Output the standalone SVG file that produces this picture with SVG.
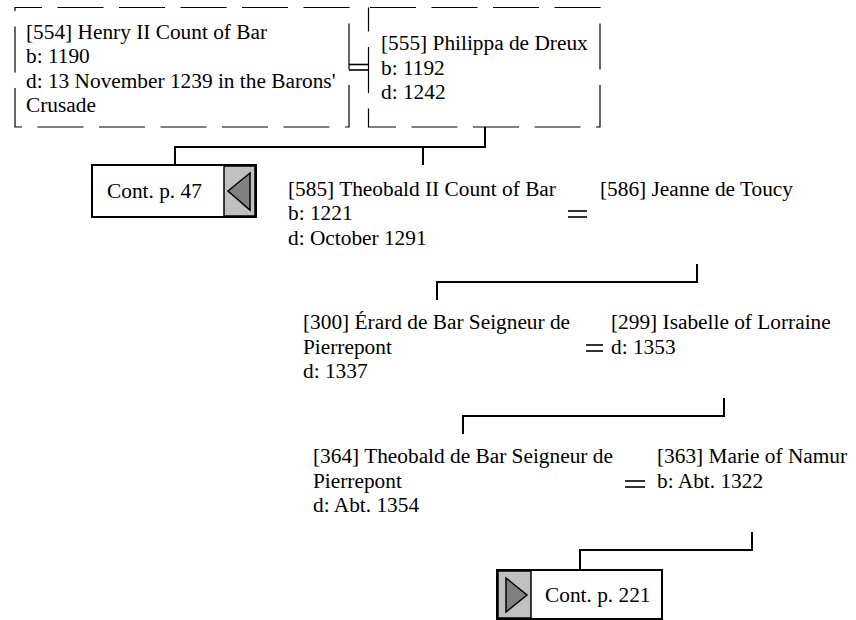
<svg xmlns="http://www.w3.org/2000/svg" width="856" height="620" viewBox="0 0 856 620">
<style>
.dash{fill:#fff;stroke:#000;stroke-width:1.2;stroke-dasharray:46 15.5}
.ln{fill:none;stroke:#000;stroke-width:2}
.eq{stroke:#000;stroke-width:1.6}
.cbox{fill:#fff;stroke:#000;stroke-width:2}
.panel{fill:#c0c0c0;stroke:#000;stroke-width:1.5}
.tri{fill:#808080;stroke:#000;stroke-width:1.5}
</style>
<rect width="856" height="620" fill="#fff"/>
<g id="connectors">
<line class="eq" x1="349" y1="64.5" x2="368.5" y2="64.5"/>
<line class="eq" x1="349" y1="70" x2="368.5" y2="70"/>
<polyline class="ln" points="485,127 485,147 175,147 175,165"/>
<line class="ln" x1="423" y1="147" x2="423" y2="165"/>
<line class="eq" x1="568" y1="211" x2="587" y2="211"/>
<line class="eq" x1="568" y1="217" x2="587" y2="217"/>
<polyline class="ln" points="697,264 697,282 437,282 437,300"/>
<line class="eq" x1="586" y1="345" x2="603" y2="345"/>
<line class="eq" x1="586" y1="351" x2="603" y2="351"/>
<polyline class="ln" points="724,398 724,416 463,416 463,434"/>
<line class="eq" x1="625" y1="481" x2="645" y2="481"/>
<line class="eq" x1="625" y1="487" x2="645" y2="487"/>
<polyline class="ln" points="752,532 752,550 580,550 580,570"/>
</g>
<g id="p554">
<rect class="dash" x="15" y="7.5" width="334" height="119.5" stroke-dashoffset="19"/>
<text x="26" y="38.5" font-family="Liberation Serif" font-size="21.33">[554] Henry II Count of Bar</text>
<text x="26" y="63" font-family="Liberation Serif" font-size="21.33">b: 1190</text>
<text x="26" y="87.5" font-family="Liberation Serif" font-size="21.33">d: 13 November 1239 in the Barons'</text>
<text x="26" y="112" font-family="Liberation Serif" font-size="21.33">Crusade</text>
</g>
<g id="p555">
<rect class="dash" x="368.5" y="7.5" width="231.5" height="119.5" stroke-dashoffset="60"/>
<text x="381" y="50" font-family="Liberation Serif" font-size="21.33">[555] Philippa de Dreux</text>
<text x="381" y="74.5" font-family="Liberation Serif" font-size="21.33">b: 1192</text>
<text x="381" y="99" font-family="Liberation Serif" font-size="21.33">d: 1242</text>
</g>
<g id="cont47">
<rect class="cbox" x="92" y="165" width="164" height="52"/>
<rect class="panel" x="224" y="166" width="31" height="50"/>
<polygon class="tri" points="228,191 250,173 250,210"/>
<text x="107" y="198" font-family="Liberation Serif" font-size="21.33">Cont. p. 47</text>
</g>
<g id="p585">
<text x="288" y="195.5" font-family="Liberation Serif" font-size="21.33">[585] Theobald II Count of Bar</text>
<text x="288" y="220" font-family="Liberation Serif" font-size="21.33">b: 1221</text>
<text x="288" y="244.5" font-family="Liberation Serif" font-size="21.33">d: October 1291</text>
</g>
<g id="p586">
<text x="600" y="195.5" font-family="Liberation Serif" font-size="21.33">[586] Jeanne de Toucy</text>
</g>
<g id="p300">
<text x="303" y="329" font-family="Liberation Serif" font-size="21.33">[300] Érard de Bar Seigneur de</text>
<text x="303" y="353.5" font-family="Liberation Serif" font-size="21.33">Pierrepont</text>
<text x="303" y="378" font-family="Liberation Serif" font-size="21.33">d: 1337</text>
</g>
<g id="p299">
<text x="611" y="329" font-family="Liberation Serif" font-size="21.33">[299] Isabelle of Lorraine</text>
<text x="611" y="353.5" font-family="Liberation Serif" font-size="21.33">d: 1353</text>
</g>
<g id="p364">
<text x="313" y="463" font-family="Liberation Serif" font-size="21.33">[364] Theobald de Bar Seigneur de</text>
<text x="313" y="487.5" font-family="Liberation Serif" font-size="21.33">Pierrepont</text>
<text x="313" y="512" font-family="Liberation Serif" font-size="21.33">d: Abt. 1354</text>
</g>
<g id="p363">
<text x="657" y="463" font-family="Liberation Serif" font-size="21.33">[363] Marie of Namur</text>
<text x="657" y="487.5" font-family="Liberation Serif" font-size="21.33">b: Abt. 1322</text>
</g>
<g id="cont221">
<rect class="cbox" x="497" y="570" width="165" height="49"/>
<rect class="panel" x="498" y="571" width="33" height="47"/>
<polygon class="tri" points="506,578 527,595 506,612"/>
<text x="545" y="602" font-family="Liberation Serif" font-size="21.33">Cont. p. 221</text>
</g>
</svg>
